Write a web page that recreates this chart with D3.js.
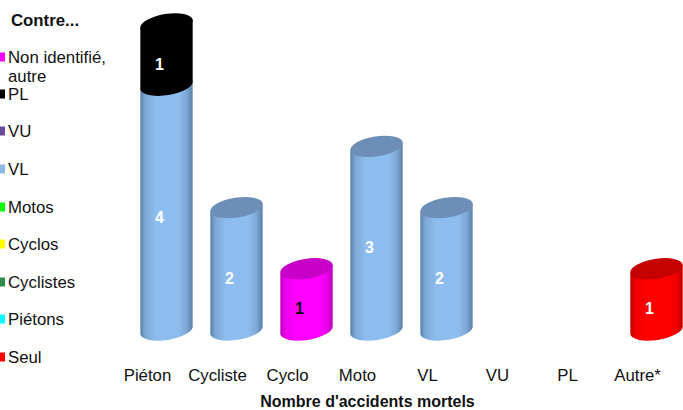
<!DOCTYPE html>
<html>
<head>
<meta charset="utf-8">
<script src="https://cdn.jsdelivr.net/npm/d3@7"></script>
<style>
  html, body { margin: 0; padding: 0; background: #fff; }
  text { font-family: "Liberation Sans", Arial, sans-serif; }
</style>
</head>
<body>
<svg id="chart" width="683" height="410"></svg>
<script>
const categories = ['Piéton', 'Cycliste', 'Cyclo', 'Moto', 'VL', 'VU', 'PL', 'Autre*'];

// stacking order, bottom to top
const seriesNames = ['Seul', 'Piétons', 'Cyclistes', 'Cyclos', 'Motos', 'VL', 'VU', 'PL', 'Non identifié, autre'];
const seul = [0, 0, 0, 0, 0, 0, 0, 1];
const pietons = [0, 0, 0, 0, 0, 0, 0, 0];
const cyclistes = [0, 0, 0, 0, 0, 0, 0, 0];
const cyclos = [0, 0, 0, 0, 0, 0, 0, 0];
const motos = [0, 0, 0, 0, 0, 0, 0, 0];
const vl = [4, 2, 0, 3, 2, 0, 0, 0];
const vu = [0, 0, 0, 0, 0, 0, 0, 0];
const pl = [1, 0, 0, 0, 0, 0, 0, 0];
const nonIdentifie = [0, 0, 1, 0, 0, 0, 0, 0];
const seriesValues = [seul, pietons, cyclistes, cyclos, motos, vl, vu, pl, nonIdentifie];

const legendColors = ['#ff0000', '#00ffff', '#2e8b4a', '#ffff00', '#00ff00', '#8db8e8', '#6b4a9b', '#000000', '#ff00ff'];
// edge, centre and top-cap shades of the cylinders that appear
const shades = {
  'VL': { edge: '#5a80a9', side: '#7ea8d6', mid: '#8dbdef', top: '#6d8fb7', text: '#fff' },
  'PL': { edge: '#000', side: '#000', mid: '#000', top: '#000', text: '#fff' },
  'Seul': { edge: '#c00000', side: '#ee0000', mid: '#ff0000', top: '#c40000', text: '#fff' },
  'Non identifié, autre': { edge: '#bc00bc', side: '#ee00ee', mid: '#ff00ff', top: '#c800c8', text: '#000' }
};

const svg = d3.select('#chart');
const x = d3.scaleBand().domain(categories).range([131.5, 691.5]);
const y = d3.scaleLinear().domain([0, 5]).range([330, 24]);

const rx = 26.5, ry = 10, tilt = -9;
const cx = c => x(c) + x.bandwidth() / 2;

const defs = svg.append('defs');
Object.entries(shades).forEach(([name, s], i) => {
  s.id = 'cyl' + i;
  const grad = defs.append('linearGradient').attr('id', s.id);
  [[0, s.edge], [0.1, s.side], [0.3, s.mid], [0.72, s.mid], [0.88, s.side], [1, s.edge]].forEach(([o, col]) => {
    grad.append('stop').attr('offset', o).attr('stop-color', col);
  });
});

const stacked = d3.stack()
  .keys(d3.range(seriesNames.length))
  .value((d, k) => seriesValues[k][d])(d3.range(categories.length));

// corner offsets of a tilted ellipse, left and right ends
const dx = rx * Math.cos(tilt * Math.PI / 180);
const dy = rx * Math.sin(tilt * Math.PI / 180);

function bodyPath(c, v0, v1) {
  const m = cx(c), y0 = y(v0), y1 = y(v1);
  return `M${m - dx},${y1 - dy}L${m - dx},${y0 - dy}` +
    `A${rx},${ry} ${tilt} 0 0 ${m + dx},${y0 + dy}` +
    `L${m + dx},${y1 + dy}Z`;
}

const marks = svg.append('g');
stacked.forEach((layer, k) => {
  const s = shades[seriesNames[k]];
  layer.forEach((d, i) => {
    if (d[1] === d[0]) return;
    const c = categories[i];
    marks.append('path').attr('d', bodyPath(c, d[0], d[1])).attr('fill', `url(#${s.id})`);
    marks.append('ellipse')
      .attr('rx', rx).attr('ry', ry)
      .attr('transform', `translate(${cx(c)},${y(d[1])}) rotate(${tilt})`)
      .attr('fill', s.top);
  });
});

// value labels sit after the marks
stacked.forEach((layer, k) => {
  const s = shades[seriesNames[k]];
  layer.forEach((d, i) => {
    if (d[1] === d[0]) return;
    svg.append('text')
      .attr('x', cx(categories[i]) - 7)
      .attr('y', y((d[0] + d[1]) / 2) + 15)
      .attr('text-anchor', 'middle')
      .attr('font-size', 16)
      .attr('font-weight', 'bold')
      .attr('fill', s.text)
      .text(d[1] - d[0]);
  });
});

const axis = svg.append('g')
  .attr('transform', 'translate(0,366)')
  .call(d3.axisBottom(x).tickSize(0));
axis.select('.domain').remove();
axis.selectAll('text')
  .attr('dx', -19)
  .attr('font-size', 16.8)
  .attr('fill', '#111')
  .style('font-family', '"Liberation Sans", Arial, sans-serif');

svg.append('text')
  .attr('x', 367.5).attr('y', 406.5)
  .attr('text-anchor', 'middle')
  .attr('font-size', 16)
  .attr('font-weight', 'bold')
  .attr('fill', '#111')
  .text("Nombre d'accidents mortels");

svg.append('text')
  .attr('x', 11).attr('y', 25.5)
  .attr('font-size', 16.8)
  .attr('font-weight', 'bold')
  .attr('fill', '#111')
  .text('Contre...');

// legend rows, top to bottom
const legendTops = [57, 94, 131, 169, 207, 244, 282, 319, 357];
const legendRows = seriesNames.map((n, i) => ({ name: n, color: legendColors[i] })).reverse();
const legend = svg.append('g').selectAll('g').data(legendRows).join('g')
  .attr('transform', (d, i) => `translate(0,${legendTops[i]})`);
legend.append('rect')
  .attr('x', 0).attr('y', -4.5).attr('width', 5).attr('height', 9)
  .attr('fill', d => d.color);
legend.append('text')
  .attr('x', 8).attr('y', 5.5)
  .attr('font-size', 16.8)
  .attr('fill', '#111')
  .each(function (d) {
    const parts = d.name.split(', ');
    if (parts.length === 1) { d3.select(this).text(d.name); return; }
    d3.select(this).append('tspan').attr('x', 8).text(parts[0] + ',');
    d3.select(this).append('tspan').attr('x', 8).attr('dy', 19.5).text(parts[1]);
  });
</script>
</body>
</html>
